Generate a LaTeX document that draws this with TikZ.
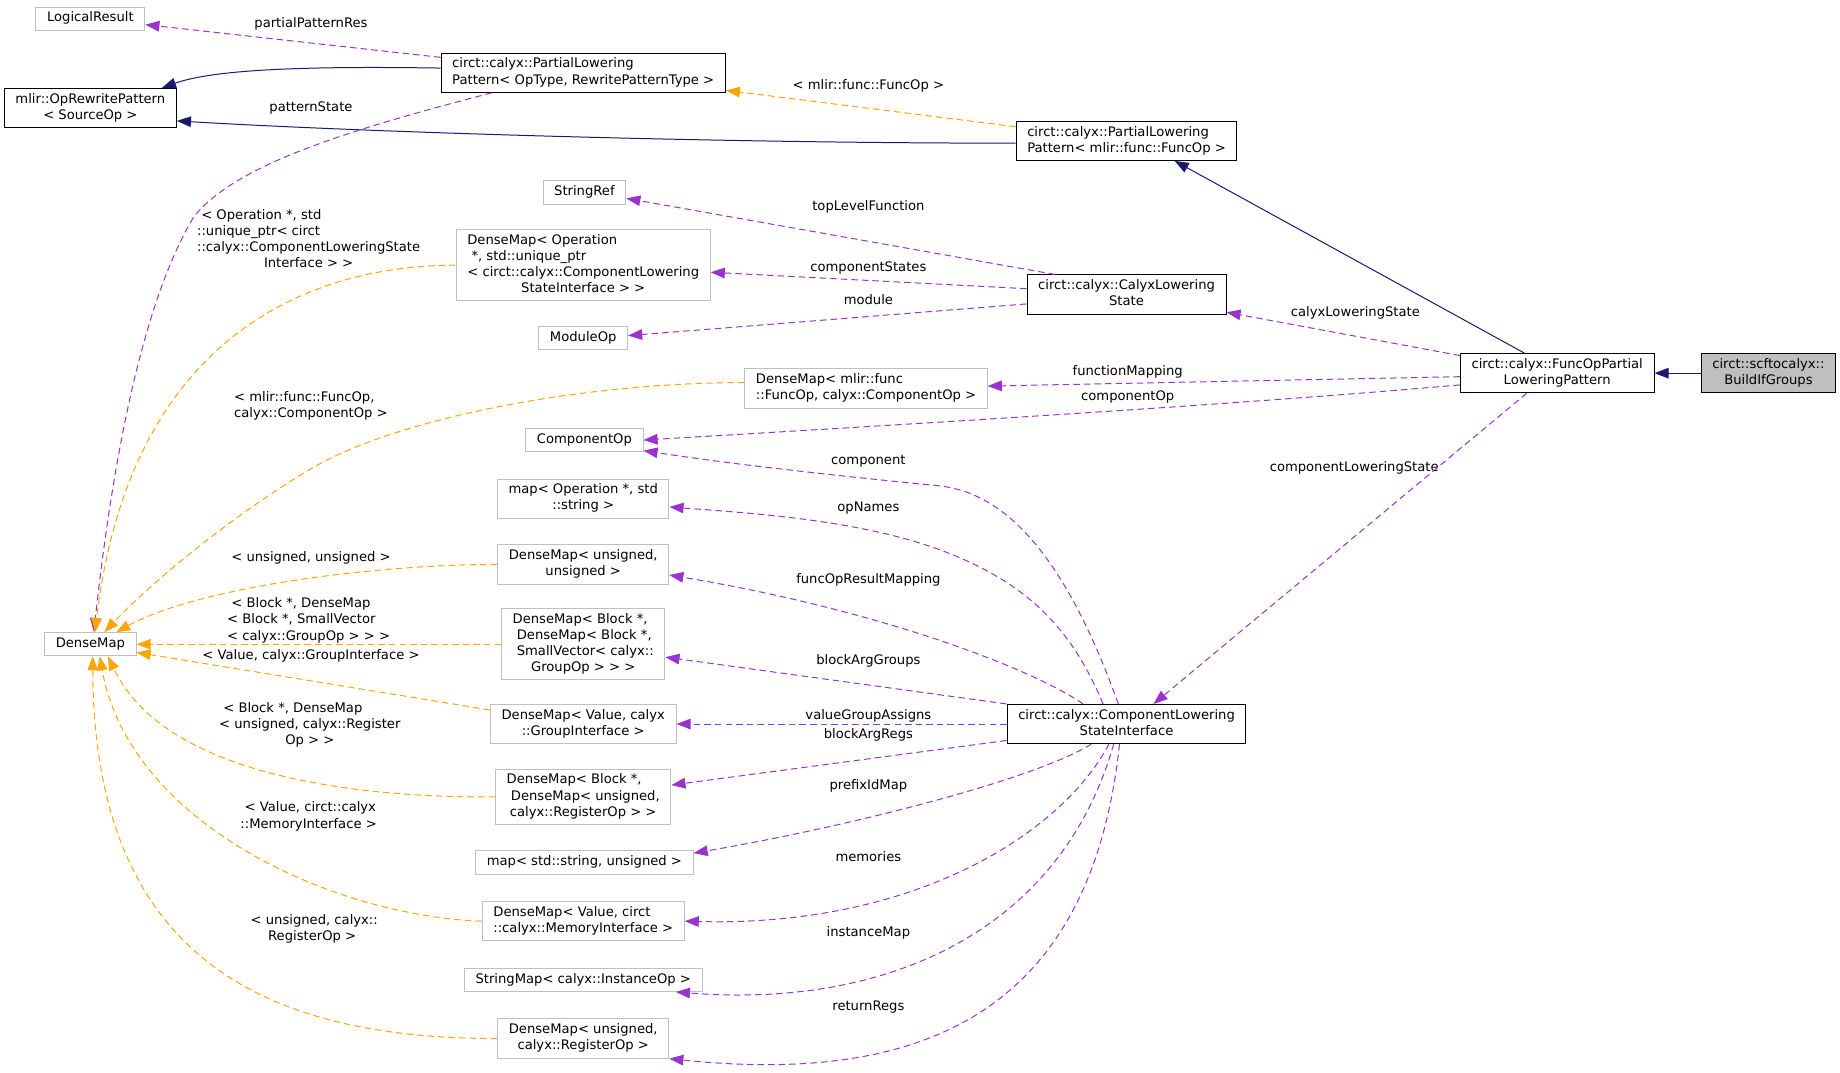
\documentclass[tikz,border=0pt]{standalone}
\usepackage{fontspec}
\setmainfont{DejaVu Sans}
\usetikzlibrary{arrows.meta}
\definecolor{navyedge}{HTML}{191970}
\definecolor{useedge}{HTML}{9A32CD}
\definecolor{tmpledge}{HTML}{FFA500}
\newcommand{\oneline}[1]{\begin{tabular}{@{}c@{}}#1\end{tabular}}
\newcommand{\wrapped}[2]{\begin{tabular}{@{}l@{}}#1\\\multicolumn{1}{@{}c@{}}{#2}\end{tabular}}

\begin{document}
\begin{tikzpicture}[>={Triangle[length=12pt,width=9pt]},x=1pt,y=-1pt,
  every node/.style={font=\fontsize{11.2}{13.7}\selectfont},
  doc/.style={draw=black,line width=0.85pt,fill=white,inner xsep=9.5pt,inner ysep=3pt},
  ext/.style={doc,draw=black!25},
  root/.style={doc,fill=black!25},
  lbl/.style={inner sep=0pt},
  inhline/.style={->,navyedge,line width=0.85pt},
  useline/.style={->,useedge,line width=0.85pt,dash pattern=on 5.5pt off 3.5pt},
  tmplline/.style={useline,tmpledge}]
  \path[use as bounding box,fill=white] (0,0) rectangle (1568,914);

  \node[ext] (lres) at (77,16) {\oneline{LogicalResult}};
  \node[doc] (orp) at (77,92) {\wrapped{mlir::OpRewritePattern}{< SourceOp >}};
  \node[ext] (dmap) at (77,549) {\oneline{DenseMap}};
  \node[doc] (plpop) at (497,62) {\wrapped{circt::calyx::PartialLowering}{Pattern< OpType, RewritePatternType >}};
  \node[ext] (sref) at (498,164) {\oneline{StringRef}};
  \node[ext] (dmop) at (497,226) {\wrapped{DenseMap< Operation\\\ *, std::unique\_ptr\\< circt::calyx::ComponentLowering}{StateInterface > >}};
  \node[ext] (modop) at (497,288) {\oneline{ModuleOp}};
  \node[ext] (dmfunc) at (738,331) {\wrapped{DenseMap< mlir::func}{::FuncOp, calyx::ComponentOp >}};
  \node[ext] (compop) at (498,375) {\oneline{ComponentOp}};
  \node[ext] (mapop) at (497,425) {\wrapped{map< Operation *, std}{::string >}};
  \node[ext] (dmuns) at (497,481) {\wrapped{DenseMap< unsigned,}{unsigned >}};
  \node[ext] (dmblkg) at (497,549) {\wrapped{DenseMap< Block *,\\\ DenseMap< Block *,\\\ SmallVector< calyx::}{GroupOp > > >}};
  \node[ext] (dmvalg) at (497,617) {\wrapped{DenseMap< Value, calyx}{::GroupInterface >}};
  \node[ext] (dmblkr) at (497,679) {\wrapped{DenseMap< Block *,\\\ DenseMap< unsigned,}{calyx::RegisterOp > >}};
  \node[ext] (mapstr) at (498,735) {\oneline{map< std::string, unsigned >}};
  \node[ext] (dmvalm) at (497,785) {\wrapped{DenseMap< Value, circt}{::calyx::MemoryInterface >}};
  \node[ext] (smap) at (497,835) {\oneline{StringMap< calyx::InstanceOp >}};
  \node[ext] (dmunsr) at (497,885) {\wrapped{DenseMap< unsigned,}{calyx::RegisterOp >}};
  \node[doc] (plpfunc) at (960,120) {\wrapped{circt::calyx::PartialLowering}{Pattern< mlir::func::FuncOp >}};
  \node[doc] (cls) at (960,251) {\wrapped{circt::calyx::CalyxLowering}{State}};
  \node[doc] (clsi) at (960,617) {\wrapped{circt::calyx::ComponentLowering}{StateInterface}};
  \node[doc] (fplp) at (1327,318) {\wrapped{circt::calyx::FuncOpPartial}{LoweringPattern}};
  \node[root] (bif) at (1507,318) {\wrapped{circt::scftocalyx::}{BuildIfGroups}};

  \node[lbl] (l-ppr) at (265,20) {partialPatternRes};
  \node[lbl] (l-pst) at (265,92) {patternState};
  \node[lbl] (l-func) at (740,73) {< mlir::func::FuncOp >};
  \node[lbl] (l-tlf) at (740,176) {topLevelFunction};
  \node[lbl] (l-cst) at (740,228) {componentStates};
  \node[lbl] (l-mod) at (740,255) {module};
  \node[lbl] (l-cls) at (1155,267) {calyxLoweringState};
  \node[lbl] (l-fm) at (961,317) {functionMapping};
  \node[lbl] (l-cop) at (961,338) {componentOp};
  \node[lbl] (l-clsi) at (1154,399) {componentLoweringState};
  \node[lbl] (l-comp) at (740,393) {component};
  \node[lbl] (l-opn) at (740,433) {opNames};
  \node[lbl] (l-form) at (740,494) {funcOpResultMapping};
  \node[lbl] (l-bag) at (740,563) {blockArgGroups};
  \node[lbl] (l-vga) at (740,610) {valueGroupAssigns};
  \node[lbl] (l-bar) at (740,626) {blockArgRegs};
  \node[lbl] (l-pim) at (740,670) {prefixIdMap};
  \node[lbl] (l-mem) at (740,730) {memories};
  \node[lbl] (l-inst) at (740,795) {instanceMap};
  \node[lbl] (l-ret) at (740,858) {returnRegs};
  \node[lbl] (t-op) at (263,205) {\wrapped{\ < Operation *, std\\::unique\_ptr< circt\\::calyx::ComponentLoweringState}{Interface > >}};
  \node[lbl] (t-func) at (265,346) {\wrapped{< mlir::func::FuncOp,}{calyx::ComponentOp >}};
  \node[lbl] (t-uns) at (265,475) {< unsigned, unsigned >};
  \node[lbl] (t-blkg) at (263,529) {\wrapped{\ < Block *, DenseMap\\< Block *, SmallVector}{< calyx::GroupOp > > >}};
  \node[lbl] (t-valg) at (265,559) {< Value, calyx::GroupInterface >};
  \node[lbl] (t-blkr) at (264,618) {\wrapped{\ < Block *, DenseMap\\< unsigned, calyx::Register}{Op > >}};
  \node[lbl] (t-valm) at (263,696) {\wrapped{\ < Value, circt::calyx}{::MemoryInterface >}};
  \node[lbl] (t-unsr) at (266,792) {\wrapped{\ < unsigned, calyx::}{RegisterOp >}};

  \draw[inhline] ([yshift=4pt]plpop.west) .. controls (250,56) and (180,60) .. ([xshift=61pt]orp.north);
  \draw[inhline] ([yshift=-2pt]plpfunc.west) .. controls (600,122) and (300,112) .. ([yshift=-11pt]orp.east);
  \draw[inhline] ([xshift=-28pt]fplp.north) -- ([xshift=41pt]plpfunc.south);
  \draw[inhline] (bif) -- (fplp);
  \draw[tmplline] ([yshift=12pt]plpfunc.west) -- ([yshift=-15pt]plpop.east);
  \draw[useline] ([yshift=-4pt]plpop.north west) -- ([yshift=-5pt]lres.east);
  \draw[useline] ([xshift=-78pt]plpop.south) .. controls (300,110) and (200,140) .. (165,185)
    .. controls (120,260) and (95,400) .. ([xshift=3pt]dmap.north);

  \draw[tmplline] (dmop.west) .. controls (260,226) and (110,290) .. ([xshift=4pt]dmap.north);
  \draw[tmplline] ([yshift=5pt]dmfunc.west) .. controls (500,326) and (340,355) .. (264,400)
    .. controls (200,438) and (130,495) .. ([xshift=12pt]dmap.north);
  \draw[tmplline] (dmuns.west) .. controls (320,481) and (170,500) .. ([xshift=22pt]dmap.north);
  \draw[tmplline] (dmblkg) -- (dmap);
  \draw[tmplline] ([yshift=12pt]dmvalg.west) -- ([yshift=-7pt]dmap.east);
  \draw[tmplline] (dmblkr.west) .. controls (300,680) and (140,660) .. ([xshift=15pt]dmap.south);
  \draw[tmplline] (dmvalm.west) .. controls (280,780) and (110,700) .. ([xshift=8pt]dmap.south);
  \draw[tmplline] (dmunsr.west) .. controls (230,885) and (80,820) .. ([xshift=2pt]dmap.south);

  \draw[useline] ([xshift=-61pt]cls.north) -- ([yshift=-5pt]sref.east);
  \draw[useline] ([yshift=5pt]cls.west) -- ([yshift=-6pt]dmop.east);
  \draw[useline] ([yshift=-8pt]cls.west) -- ([yshift=2pt]modop.east);
  \draw[useline] ([yshift=15pt]fplp.west) -- ([yshift=2pt]cls.south east);
  \draw[useline] ([yshift=-3pt]fplp.west) -- ([yshift=2pt]dmfunc.east);
  \draw[useline] ([yshift=-10pt]fplp.west) .. controls (1050,345) and (800,360) .. (compop.east);
  \draw[useline] ([xshift=-26pt]fplp.south) -- ([xshift=23pt]clsi.north);

  \draw[useline] ([xshift=-7pt]clsi.north) .. controls (910,480) and (860,420) .. (800,414)
    .. controls (700,404) and (620,395) .. ([yshift=-9pt]compop.east);
  \draw[useline] ([xshift=-20pt]clsi.north) .. controls (915,540) and (880,500) .. (810,472)
    .. controls (740,444) and (650,438) .. ([yshift=-7pt]mapop.east);
  \draw[useline] ([xshift=-37pt]clsi.north) .. controls (880,570) and (750,520) .. ([yshift=-9pt]dmuns.east);
  \draw[useline] (clsi.north west) -- ([yshift=-11pt]dmblkg.east);
  \draw[useline] (clsi) -- (dmvalg);
  \draw[useline] ([yshift=-14pt]clsi.west) -- ([yshift=10pt]dmblkr.east);
  \draw[useline] ([xshift=-30pt]clsi.south) .. controls (880,665) and (720,705) .. ([yshift=8pt]mapstr.east);
  \draw[useline] ([xshift=-15pt]clsi.south) .. controls (905,710) and (780,790) .. (dmvalm.east);
  \draw[useline] ([xshift=-11pt]clsi.south) .. controls (905,790) and (760,860) .. ([xshift=79pt]smap.south);
  \draw[useline] ([xshift=-6pt]clsi.south) .. controls (930,860) and (790,925) .. (dmunsr.south east);
\end{tikzpicture}
\end{document}
